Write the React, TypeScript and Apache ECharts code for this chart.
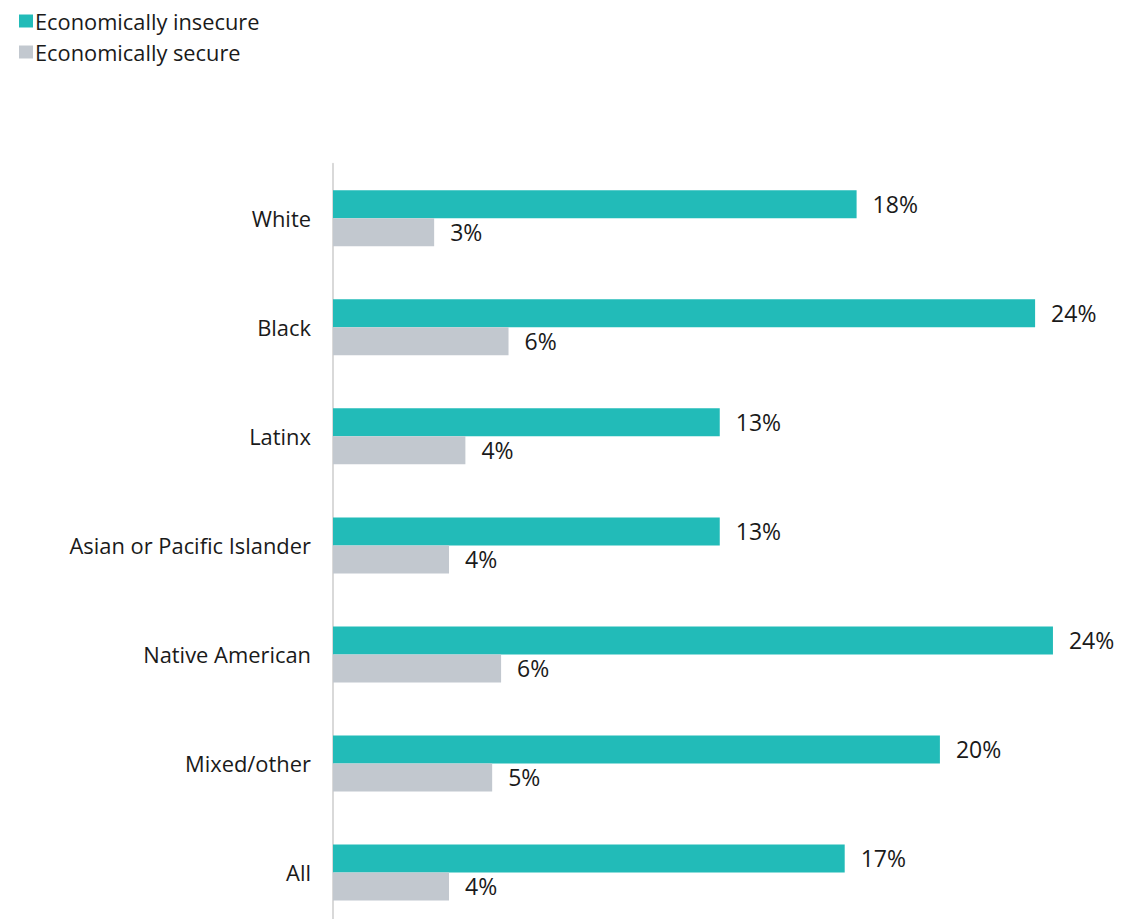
import React, { useEffect, useRef } from "react";
import * as echarts from "echarts";

const categories = ["White", "Black", "Latinx", "Asian or Pacific Islander", "Native American", "Mixed/other", "All"];
const insecure = [17.6, 23.6, 13.0, 13.0, 24.2, 20.4, 17.2];
const secure = [3.4, 5.9, 4.45, 3.9, 5.65, 5.35, 3.9];
const seriesNames = ["Economically insecure", "Economically secure"];

const FONT = "'Open Sans', 'Noto Sans', sans-serif";

export default function App() {
  const ref = useRef<HTMLDivElement>(null);
  useEffect(() => {
    if (!ref.current) return;
    const chart = echarts.init(ref.current, null, { renderer: "svg" });
    const label = {
      show: true,
      position: "right",
      distance: 16,
      color: "#1a1a1a",
      fontFamily: FONT,
      fontSize: 23,
      formatter: (p: any) => Math.round(p.value) + "%",
    };
    chart.setOption({
      animation: false,
      backgroundColor: "#ffffff",
      textStyle: { fontFamily: FONT },
      legend: {
        orient: "vertical",
        left: 14,
        top: 5,
        itemWidth: 14,
        itemHeight: 13,
        itemGap: 9,
        icon: "rect",
        textStyle: { fontFamily: FONT, fontSize: 21.8, color: "#1a1a1a", padding: [0, 0, 0, -3] },
        data: seriesNames,
      },
      grid: { left: 333, right: 15.5, top: 163.8, bottom: 0, containLabel: false },
      xAxis: {
        type: "value",
        min: 0,
        max: 26,
        show: false,
      },
      yAxis: {
        type: "category",
        data: categories,
        inverse: true,
        axisLine: { show: true, lineStyle: { color: "#d9d9d9", width: 2 } },
        axisTick: { show: false },
        axisLabel: { fontFamily: FONT, fontSize: 21.9, color: "#1a1a1a", margin: 22 },
      },
      series: [
        {
          name: seriesNames[0],
          type: "bar",
          data: insecure,
          barWidth: 28,
          barGap: "0%",
          itemStyle: { color: "#22bbb8" },
          label,
        },
        {
          name: seriesNames[1],
          type: "bar",
          data: secure,
          barWidth: 28,
          barGap: "0%",
          itemStyle: { color: "#c2c8cf" },
          label,
        },
      ],
    });
    return () => chart.dispose();
  }, []);
  return (
    <div style={{ position: "absolute", left: 0, top: 0, width: 1122, height: 919, overflow: "hidden" }}>
      <div ref={ref} style={{ width: 1122, height: 927 }} />
    </div>
  );
}
